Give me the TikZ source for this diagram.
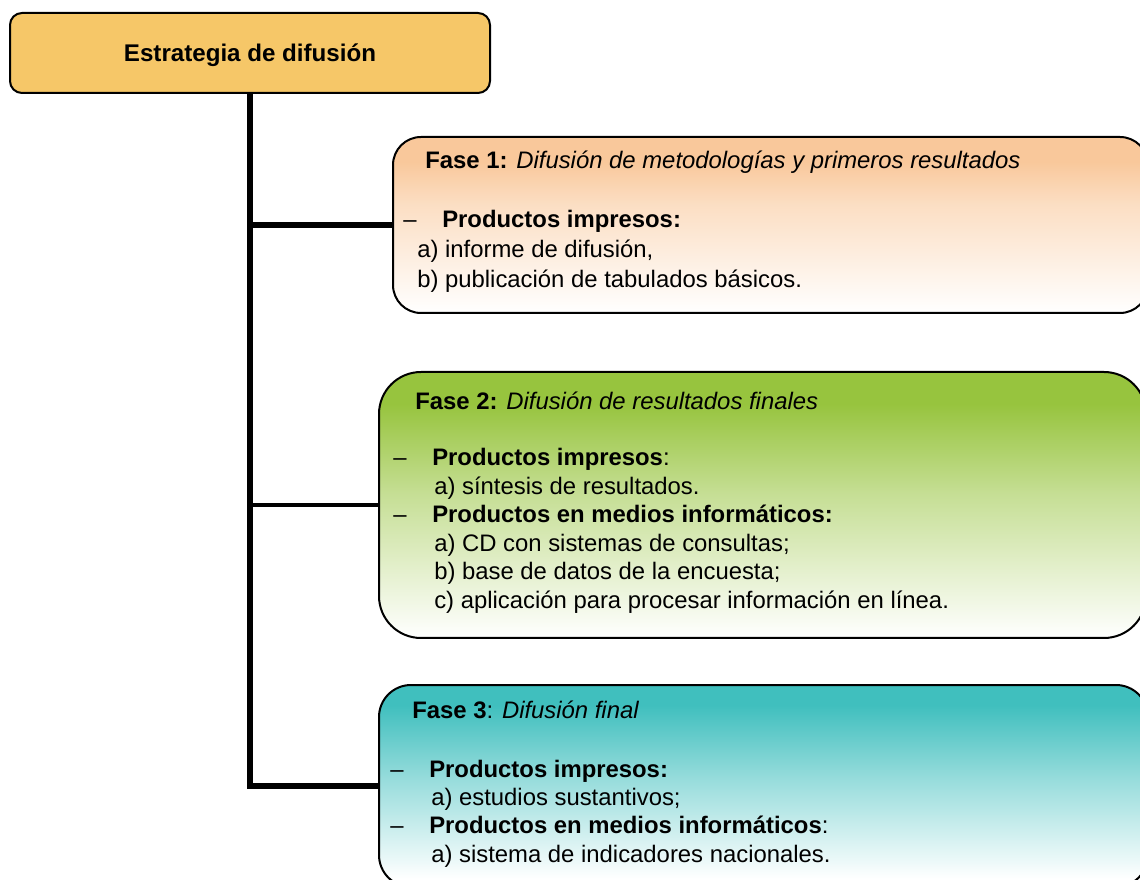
\documentclass[tikz,border=0pt]{standalone}
\usepackage{fontspec}
\setmainfont{Liberation Sans}
\definecolor{topfill}{RGB}{246,199,104}
\definecolor{fAcol}{RGB}{249,200,155}
\definecolor{fBcol}{RGB}{151,196,62}
\definecolor{fCcol}{RGB}{64,191,190}
\pgfdeclareverticalshading{fAshade}{100bp}{color(0bp)=(white); color(25bp)=(white); color(56bp)=(fAcol!60); color(68bp)=(fAcol); color(100bp)=(fAcol)}
\pgfdeclareverticalshading{fBshade}{100bp}{color(0bp)=(white); color(25bp)=(white); color(52bp)=(fBcol!55); color(69bp)=(fBcol); color(100bp)=(fBcol)}
\pgfdeclareverticalshading{fCshade}{100bp}{color(0bp)=(white); color(27bp)=(white); color(52bp)=(fCcol!55); color(70bp)=(fCcol); color(100bp)=(fCcol)}
\tikzset{
  topbox/.style={draw=black, line width=1.5pt, fill=topfill, rounded corners=9pt,
    minimum width=360pt, minimum height=60pt, inner sep=0pt},
  phasebox/.style={draw=black, line width=1.5pt, inner sep=0pt},
  conn/.style={draw=black, line width=4.5pt, line join=miter},
  txt/.style={anchor=base west, inner sep=0pt, font=\fontsize{17.9}{21}\selectfont},
}
\begin{document}
\begin{tikzpicture}[x=0.75pt,y=-0.75pt]
\useasboundingbox (0,0) rectangle (1140,880);
\clip (0,0) rectangle (1140,880);
% boxes
\node[topbox] (top) at (250,53) {};
\node[anchor=base, inner sep=0pt, font=\fontsize{18.1}{21}\selectfont\bfseries] (toptxt) at (250,62) {Estrategia de difusión};
\node[phasebox, shading=fAshade, minimum width=566.25pt, minimum height=132pt, rounded corners=21pt] (f1) at (770.5,225) {};
\node[phasebox, shading=fBshade, minimum width=575.25pt, minimum height=199.5pt, rounded corners=31.5pt] (f2) at (762.5,505) {};
\node[phasebox, shading=fCshade, minimum width=576.75pt, minimum height=151.5pt, rounded corners=24pt] (f3) at (763.5,786) {};
% connectors
\draw[conn] (top.south) -- (top.south |- f3.west) -- (f3.west);
\draw[conn] (top.south |- f1.west) -- (f1.west);
\draw[conn, line width=3pt] (top.south |- f2.west) -- (f2.west);
% Fase 1 text
\node[txt] (f1t) at (425,169) {\textbf{Fase 1:} \textit{Difusión de metodologías y primeros resultados}};
\node[txt] (f1d) at (403,228) {–};
\node[txt] (f1p) at (442,228) {\textbf{Productos impresos:}};
\node[txt] (f1a) at (417,258) {a) informe de difusión,};
\node[txt] (f1b) at (417,288) {b) publicación de tabulados básicos.};
% Fase 2 text
\node[txt] (f2t) at (415,410) {\textbf{Fase 2:} \textit{Difusión de resultados finales}};
\node[txt] (f2d1) at (393,466) {–};
\node[txt] (f2p1) at (432,466) {\textbf{Productos impresos}:};
\node[txt] (f2a1) at (434,494.5) {a) síntesis de resultados.};
\node[txt] (f2d2) at (393,523) {–};
\node[txt] (f2p2) at (432,523) {\textbf{Productos en medios informáticos:}};
\node[txt] (f2a2) at (434,551.5) {a) CD con sistemas de consultas;};
\node[txt] (f2b2) at (434,580) {b) base de datos de la encuesta;};
\node[txt] (f2c2) at (434,608.5) {c) aplicación para procesar información en línea.};
% Fase 3 text
\node[txt] (f3t) at (412,718) {\textbf{Fase 3}: \textit{Difusión final}};
\node[txt] (f3d1) at (390,777) {–};
\node[txt] (f3p1) at (429,777) {\textbf{Productos impresos:}};
\node[txt] (f3a1) at (431,805) {a) estudios sustantivos;};
\node[txt] (f3d2) at (390,833) {–};
\node[txt] (f3p2) at (429,833) {\textbf{Productos en medios informáticos}:};
\node[txt] (f3a2) at (431,862) {a) sistema de indicadores nacionales.};
\end{tikzpicture}
\end{document}
